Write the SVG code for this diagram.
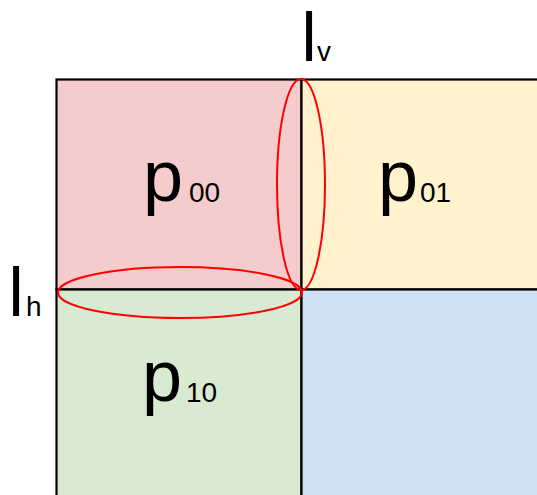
<svg xmlns="http://www.w3.org/2000/svg" width="537" height="495" viewBox="0 0 537 495">
<style>
.q{stroke:#000;stroke-width:2.2}
text{font-family:'Liberation Sans',Arial,sans-serif;fill:#000}
.big{font-size:72px}
.sub{font-size:28px}
.lab{font-size:68px}
.ell{fill:none;stroke:#ff0000;stroke-width:2}
</style>
<rect width="537" height="495" fill="#fff"/>
<g id="p00">
<rect class="q" x="56.5" y="79.5" width="245" height="210" fill="#f4cccc"/>
<text class="big" x="143" y="201">p</text><text class="sub" x="189" y="202">00</text>
</g>
<g id="p01">
<rect class="q" x="301.5" y="79.5" width="260" height="210" fill="#fff2cc"/>
<text class="big" x="378" y="201">p</text><text class="sub" x="420" y="202">01</text>
</g>
<g id="p10">
<rect class="q" x="56.5" y="289.5" width="245" height="230" fill="#d9ead3"/>
<text class="big" x="142" y="401">p</text><text class="sub" x="186" y="402">10</text>
</g>
<g id="p11">
<rect class="q" x="301.5" y="289.5" width="260" height="230" fill="#cfe2f3"/>
</g>
<g id="connectors">
<ellipse class="ell" cx="301" cy="184.5" rx="24" ry="105.5"/>
<ellipse class="ell" cx="180" cy="292.5" rx="122" ry="25.5"/>
</g>
<g id="lv">
<text class="lab" x="301.5" y="61">l</text><text class="sub" x="317" y="61" font-size="30">v</text>
</g>
<g id="lh">
<text class="lab" x="8.5" y="316">l</text><text class="sub" x="26" y="316" font-size="30">h</text>
</g>
</svg>
